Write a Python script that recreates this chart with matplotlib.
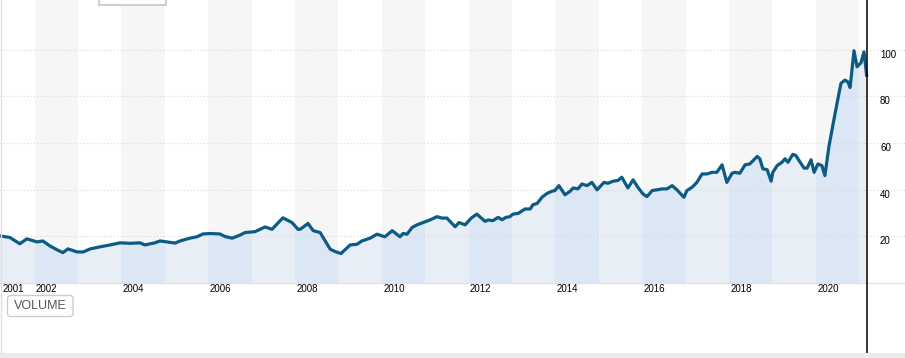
import numpy as np
import matplotlib
matplotlib.use('Agg')
import matplotlib.pyplot as plt
import matplotlib.transforms as mtransforms
from matplotlib.patches import Rectangle, Polygon, FancyBboxPatch
from matplotlib.lines import Line2D

plt.rcParams['font.family'] = ['Liberation Sans', 'DejaVu Sans']

# monthly-ish readings, decimal year -> value
dates = [
    2001.20, 2001.43, 2001.66, 2001.82, 2002.06, 2002.19, 2002.35, 2002.52, 2002.65, 2002.77,
    2002.98, 2003.12, 2003.28, 2003.51, 2003.74, 2003.97, 2004.20, 2004.43, 2004.54, 2004.77,
    2004.89, 2005.24, 2005.35, 2005.58, 2005.74, 2005.88, 2006.04, 2006.27, 2006.39, 2006.55,
    2006.73, 2006.85, 2007.08, 2007.31, 2007.47, 2007.72, 2007.93, 2008.07, 2008.12, 2008.30,
    2008.42, 2008.58, 2008.81, 2008.92, 2009.06, 2009.27, 2009.43, 2009.54, 2009.73, 2009.89,
    2010.07, 2010.24, 2010.42, 2010.49, 2010.58, 2010.70, 2010.81, 2010.95, 2011.11, 2011.27,
    2011.39, 2011.50, 2011.69, 2011.78, 2011.92, 2012.06, 2012.19, 2012.38, 2012.45, 2012.56,
    2012.68, 2012.77, 2012.86, 2012.95, 2013.02, 2013.14, 2013.30, 2013.42, 2013.48, 2013.58,
    2013.69, 2013.81, 2013.92, 2013.99, 2014.08, 2014.22, 2014.34, 2014.41, 2014.52, 2014.61,
    2014.73, 2014.84, 2014.96, 2015.12, 2015.21, 2015.33, 2015.44, 2015.53, 2015.67, 2015.79,
    2015.90, 2016.02, 2016.11, 2016.23, 2016.34, 2016.46, 2016.57, 2016.69, 2016.80, 2016.96,
    2017.03, 2017.15, 2017.26, 2017.38, 2017.49, 2017.61, 2017.72, 2017.84, 2017.95, 2018.07,
    2018.14, 2018.25, 2018.37, 2018.48, 2018.65, 2018.71, 2018.78, 2018.88, 2018.97, 2019.01,
    2019.11, 2019.22, 2019.29, 2019.36, 2019.47, 2019.54, 2019.64, 2019.73, 2019.80, 2019.89,
    2019.96, 2020.05, 2020.14, 2020.21, 2020.30, 2020.40, 2020.51, 2020.58, 2020.67, 2020.74,
    2020.79, 2020.88, 2020.95, 2021.04, 2021.11, 2021.17,
]
values = [
    20.2, 19.5, 16.8, 18.9, 17.6, 18.0, 15.9, 14.2, 13.0, 14.6,
    13.3, 13.3, 14.6, 15.5, 16.3, 17.2, 17.0, 17.2, 16.3, 17.2,
    18.0, 17.1, 18.0, 19.2, 19.8, 21.0, 21.2, 21.0, 19.9, 19.2,
    20.5, 21.6, 22.0, 24.0, 23.0, 27.9, 25.9, 23.0, 23.0, 25.5,
    22.4, 21.6, 14.5, 13.5, 12.6, 16.3, 16.6, 18.0, 19.2, 20.9,
    19.8, 22.4, 19.8, 21.2, 20.9, 23.8, 24.9, 25.9, 27.0, 28.4,
    27.8, 27.8, 24.1, 25.9, 24.9, 27.8, 29.5, 26.4, 27.0, 26.7,
    28.1, 27.1, 28.1, 28.4, 29.5, 29.8, 31.7, 31.7, 33.5, 34.1,
    36.7, 38.4, 39.3, 39.6, 41.7, 37.8, 39.3, 40.7, 40.3, 42.4,
    41.7, 43.1, 39.9, 43.1, 42.7, 43.6, 43.9, 45.3, 40.7, 44.2,
    41.0, 38.1, 37.0, 39.6, 39.9, 40.3, 40.3, 41.7, 39.9, 36.7,
    39.6, 41.0, 43.1, 46.7, 46.7, 47.4, 47.4, 50.6, 43.1, 47.0,
    47.4, 47.0, 50.6, 51.0, 54.2, 53.2, 48.9, 48.5, 43.6, 47.4,
    50.3, 51.7, 53.2, 51.7, 55.1, 54.6, 51.7, 49.2, 49.2, 52.8,
    47.4, 51.0, 50.3, 46.0, 58.2, 68.3, 79.0, 85.5, 86.9, 86.1,
    83.7, 99.5, 92.6, 94.3, 99.0, 89.0,
]
year_labels = ['2001', '2002', '2004', '2006', '2008', '2010', '2012',
               '2014', '2016', '2018', '2020']
y_ticks = [20, 40, 60, 80, 100]

t = np.array(dates)
v = np.array(values)
start, end = t[0], t[-1]
ymax = 121.2

fig = plt.figure(figsize=(9.05, 3.58), dpi=100)
ax = fig.add_axes([0, 75 / 358, 1, 283 / 358])
ax.set_xlim(2001.203, 2022.055)
ax.set_ylim(0, ymax)
ax.axis('off')

# alternating year bands above the line
for year in range(2001, 2022):
    a, b = max(year, start), min(year + 1, end)
    if b > a and year % 2 == 0:
        ax.axvspan(a, b, color='#f6f6f6', lw=0, zorder=0)

# area under the line, banded by year
poly = Polygon(list(zip(t, v)) + [(end, 0), (start, 0)], closed=True,
               fc='none', ec='none')
ax.add_patch(poly)
for year in range(2001, 2022):
    a, b = max(year, start), min(year + 1, end)
    if b <= a:
        continue
    c = '#dbe7f4' if year % 2 == 0 else '#e8eef5'
    r = Rectangle((a, 0), b - a, ymax, fc=c, lw=0, zorder=1)
    ax.add_patch(r)
    r.set_clip_path(poly)

for yv in y_ticks:
    ax.axhline(yv, color='#d9d9d9', lw=0.8, ls=(0, (1, 2)), zorder=2)
ax.axhline(0, color='#e3e3e3', lw=1, zorder=2, clip_on=False)

ax.plot(t, v, color='#0b5b85', lw=2.3, zorder=3, solid_joinstyle='round')
ax.vlines(end, -30, ymax, color='black', lw=1.1, clip_on=False, zorder=4)

# right-hand value labels
trans_r = mtransforms.blended_transform_factory(fig.transFigure, ax.transData)
for yv in y_ticks:
    ax.text(880 / 905, yv - 2.2, str(yv), transform=trans_r, ha='left',
            va='center', fontsize=7, color='black')

# year labels under the chart
trans_b = mtransforms.blended_transform_factory(ax.transData, ax.transAxes)
ax.text(3 / 905, -5.5 / 283, year_labels[0], transform=ax.transAxes,
        ha='left', va='center', fontsize=7)
for lab in year_labels[1:]:
    ax.text(int(lab) + 0.03, -5.5 / 283, lab, transform=trans_b,
            ha='left', va='center', fontsize=7)

# frame bits
fig.add_artist(Line2D([0.5 / 905] * 2, [4.7 / 358, 1], transform=fig.transFigure,
                      color='#e0e0e0', lw=1))
fig.add_artist(Rectangle((0, 0), 1, 4.7 / 358, transform=fig.transFigure,
                         fc='#ebebeb', lw=0))
fig.add_artist(Rectangle((0.99, 3.53), 0.67, 0.2, transform=fig.dpi_scale_trans,
                         fc='white', ec='#cfcfcf', lw=1.5))

btn = FancyBboxPatch((0.075, 0.415), 0.655, 0.21,
                     boxstyle='round,pad=0,rounding_size=0.03',
                     transform=fig.dpi_scale_trans, fc='white', ec='#cccccc', lw=1)
fig.add_artist(btn)
fig.text(0.405, 0.52, 'VOLUME', transform=fig.dpi_scale_trans, ha='center',
         va='center', fontsize=9, color='#555555')

fig.savefig('out.png', dpi=100)
